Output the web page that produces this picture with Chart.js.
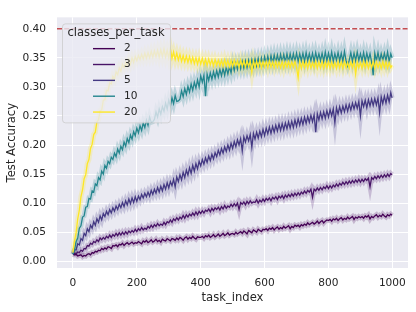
<!DOCTYPE html>
<html>
<head>
<meta charset="utf-8">
<script src="https://cdn.jsdelivr.net/npm/chart.js@4.4.1/dist/chart.umd.min.js"></script>
<style>
  html, body { margin: 0; padding: 0; background: #fff; }
  canvas { display: block; }
</style>
</head>
<body>
<canvas id="chart" width="416" height="312"></canvas>
<script>
// x positions (task_index), sampled every 5 tasks
const taskIndex = [
  0, 5, 10, 15, 20, 25, 30, 35, 40, 45, 50, 55, 60, 65, 70, 75, 80, 85, 90, 95,
  100, 105, 110, 115, 120, 125, 130, 135, 140, 145, 150, 155, 160, 165, 170, 175, 180, 185, 190, 195,
  200, 205, 210, 215, 220, 225, 230, 235, 240, 245, 250, 255, 260, 265, 270, 275, 280, 285, 290, 295,
  300, 305, 310, 315, 320, 325, 330, 335, 340, 345, 350, 355, 360, 365, 370, 375, 380, 385, 390, 395,
  400, 405, 410, 415, 420, 425, 430, 435, 440, 445, 450, 455, 460, 465, 470, 475, 480, 485, 490, 495,
  500, 505, 510, 515, 520, 525, 530, 535, 540, 545, 550, 555, 560, 565, 570, 575, 580, 585, 590, 595,
  600, 605, 610, 615, 620, 625, 630, 635, 640, 645, 650, 655, 660, 665, 670, 675, 680, 685, 690, 695,
  700, 705, 710, 715, 720, 725, 730, 735, 740, 745, 750, 755, 760, 765, 770, 775, 780, 785, 790, 795,
  800, 805, 810, 815, 820, 825, 830, 835, 840, 845, 850, 855, 860, 865, 870, 875, 880, 885, 890, 895,
  900, 905, 910, 915, 920, 925, 930, 935, 940, 945, 950, 955, 960, 965, 970, 975, 980, 985, 990, 995,
  999
];

const classesPerTask = [2, 3, 5, 10, 20];

const acc2 = [
  0.012, 0.011, 0.012, 0.009, 0.010, 0.011, 0.008, 0.010, 0.009, 0.012, 0.013, 0.011, 0.015, 0.014, 0.017, 0.016, 0.019, 0.018, 0.022, 0.020,
  0.023, 0.021, 0.025, 0.024, 0.022, 0.027, 0.026, 0.028, 0.025, 0.029, 0.028, 0.031, 0.027, 0.030, 0.032, 0.029, 0.031, 0.033, 0.030, 0.032,
  0.031, 0.034, 0.032, 0.030, 0.035, 0.033, 0.036, 0.032, 0.034, 0.037, 0.033, 0.035, 0.038, 0.034, 0.036, 0.033, 0.038, 0.036, 0.035, 0.039,
  0.037, 0.035, 0.039, 0.038, 0.036, 0.040, 0.037, 0.041, 0.039, 0.036, 0.040, 0.042, 0.038, 0.041, 0.039, 0.043, 0.040, 0.038, 0.042, 0.041,
  0.041, 0.043, 0.040, 0.044, 0.042, 0.045, 0.041, 0.043, 0.046, 0.042, 0.044, 0.047, 0.043, 0.045, 0.048, 0.044, 0.046, 0.049, 0.045, 0.047,
  0.048, 0.046, 0.050, 0.047, 0.049, 0.051, 0.048, 0.052, 0.050, 0.047, 0.053, 0.051, 0.049, 0.054, 0.052, 0.050, 0.055, 0.053, 0.051, 0.055,
  0.054, 0.056, 0.053, 0.057, 0.055, 0.058, 0.054, 0.057, 0.059, 0.055, 0.058, 0.056, 0.060, 0.057, 0.059, 0.061, 0.056, 0.060, 0.058, 0.062,
  0.060, 0.062, 0.059, 0.063, 0.061, 0.064, 0.062, 0.066, 0.063, 0.065, 0.067, 0.064, 0.066, 0.069, 0.065, 0.068, 0.070, 0.066, 0.069, 0.071,
  0.070, 0.072, 0.069, 0.073, 0.071, 0.074, 0.070, 0.073, 0.075, 0.071, 0.074, 0.072, 0.076, 0.073, 0.075, 0.077, 0.072, 0.076, 0.074, 0.077,
  0.075, 0.077, 0.074, 0.078, 0.076, 0.079, 0.073, 0.077, 0.075, 0.078, 0.080, 0.076, 0.079, 0.077, 0.081, 0.078, 0.076, 0.080, 0.078, 0.081,
  0.079
];

const acc3 = [
  0.012, 0.014, 0.013, 0.016, 0.015, 0.019, 0.017, 0.022, 0.021, 0.027, 0.026, 0.031, 0.029, 0.034, 0.032, 0.037, 0.034, 0.040, 0.037, 0.041,
  0.038, 0.043, 0.040, 0.045, 0.041, 0.046, 0.043, 0.048, 0.044, 0.049, 0.045, 0.050, 0.046, 0.051, 0.047, 0.052, 0.049, 0.053, 0.050, 0.055,
  0.051, 0.056, 0.053, 0.058, 0.054, 0.057, 0.055, 0.060, 0.057, 0.062, 0.058, 0.063, 0.060, 0.065, 0.061, 0.064, 0.062, 0.067, 0.063, 0.068,
  0.066, 0.071, 0.067, 0.073, 0.070, 0.075, 0.071, 0.076, 0.073, 0.079, 0.074, 0.080, 0.076, 0.081, 0.078, 0.083, 0.079, 0.085, 0.080, 0.086,
  0.082, 0.087, 0.083, 0.088, 0.086, 0.090, 0.085, 0.091, 0.087, 0.092, 0.089, 0.093, 0.088, 0.094, 0.090, 0.096, 0.091, 0.095, 0.093, 0.098,
  0.094, 0.099, 0.095, 0.100, 0.089, 0.101, 0.098, 0.102, 0.097, 0.103, 0.099, 0.104, 0.100, 0.102, 0.101, 0.106, 0.100, 0.105, 0.102, 0.107,
  0.103, 0.108, 0.105, 0.109, 0.104, 0.110, 0.107, 0.111, 0.106, 0.112, 0.109, 0.113, 0.108, 0.114, 0.110, 0.115, 0.111, 0.116, 0.112, 0.117,
  0.113, 0.118, 0.114, 0.119, 0.116, 0.121, 0.117, 0.122, 0.119, 0.124, 0.110, 0.124, 0.121, 0.126, 0.122, 0.127, 0.123, 0.128, 0.125, 0.130,
  0.125, 0.130, 0.126, 0.131, 0.128, 0.133, 0.129, 0.134, 0.131, 0.136, 0.132, 0.137, 0.133, 0.138, 0.134, 0.139, 0.135, 0.140, 0.136, 0.141,
  0.136, 0.141, 0.137, 0.142, 0.139, 0.143, 0.128, 0.144, 0.141, 0.146, 0.142, 0.147, 0.143, 0.148, 0.144, 0.149, 0.145, 0.150, 0.146, 0.151,
  0.149
];

const acc5 = [
  0.012, 0.019, 0.020, 0.030, 0.028, 0.039, 0.036, 0.048, 0.044, 0.056, 0.051, 0.062, 0.057, 0.068, 0.062, 0.073, 0.067, 0.078, 0.071, 0.082,
  0.077, 0.086, 0.080, 0.089, 0.083, 0.092, 0.086, 0.095, 0.089, 0.098, 0.092, 0.101, 0.094, 0.104, 0.097, 0.107, 0.099, 0.109, 0.101, 0.111,
  0.103, 0.112, 0.106, 0.115, 0.109, 0.117, 0.111, 0.119, 0.112, 0.122, 0.115, 0.124, 0.117, 0.127, 0.119, 0.129, 0.121, 0.132, 0.124, 0.135,
  0.126, 0.137, 0.130, 0.141, 0.128, 0.145, 0.137, 0.149, 0.140, 0.153, 0.144, 0.157, 0.148, 0.161, 0.151, 0.165, 0.155, 0.168, 0.159, 0.172,
  0.164, 0.175, 0.167, 0.178, 0.170, 0.181, 0.173, 0.184, 0.176, 0.187, 0.180, 0.191, 0.183, 0.194, 0.186, 0.197, 0.189, 0.200, 0.191, 0.203,
  0.194, 0.206, 0.197, 0.209, 0.200, 0.211, 0.190, 0.214, 0.205, 0.216, 0.207, 0.218, 0.196, 0.220, 0.210, 0.222, 0.212, 0.224, 0.214, 0.227,
  0.216, 0.229, 0.219, 0.231, 0.220, 0.232, 0.222, 0.234, 0.224, 0.236, 0.225, 0.237, 0.226, 0.238, 0.228, 0.240, 0.229, 0.241, 0.230, 0.243,
  0.232, 0.245, 0.234, 0.246, 0.235, 0.248, 0.237, 0.249, 0.239, 0.251, 0.240, 0.252, 0.222, 0.254, 0.243, 0.256, 0.245, 0.257, 0.246, 0.259,
  0.248, 0.261, 0.250, 0.262, 0.238, 0.264, 0.253, 0.266, 0.255, 0.267, 0.257, 0.269, 0.258, 0.270, 0.260, 0.272, 0.262, 0.273, 0.263, 0.275,
  0.250, 0.276, 0.266, 0.277, 0.264, 0.278, 0.267, 0.279, 0.268, 0.280, 0.269, 0.281, 0.256, 0.283, 0.271, 0.284, 0.272, 0.286, 0.274, 0.290,
  0.281
];

const acc10 = [
  0.012, 0.020, 0.034, 0.040, 0.057, 0.061, 0.076, 0.078, 0.093, 0.094, 0.108, 0.107, 0.121, 0.119, 0.133, 0.130, 0.144, 0.140, 0.155, 0.150,
  0.165, 0.160, 0.172, 0.168, 0.179, 0.175, 0.186, 0.180, 0.193, 0.186, 0.198, 0.192, 0.205, 0.198, 0.211, 0.204, 0.217, 0.210, 0.223, 0.216,
  0.229, 0.221, 0.233, 0.225, 0.238, 0.230, 0.243, 0.234, 0.248, 0.239, 0.240, 0.244, 0.257, 0.248, 0.262, 0.253, 0.266, 0.258, 0.272, 0.262,
  0.277, 0.267, 0.281, 0.271, 0.285, 0.275, 0.276, 0.279, 0.293, 0.283, 0.297, 0.287, 0.301, 0.291, 0.305, 0.294, 0.308, 0.298, 0.312, 0.300,
  0.319, 0.308, 0.320, 0.284, 0.322, 0.311, 0.324, 0.313, 0.326, 0.315, 0.328, 0.317, 0.330, 0.319, 0.332, 0.320, 0.334, 0.322, 0.335, 0.324,
  0.340, 0.328, 0.341, 0.330, 0.342, 0.331, 0.344, 0.332, 0.345, 0.333, 0.346, 0.334, 0.347, 0.335, 0.348, 0.336, 0.349, 0.337, 0.350, 0.338,
  0.352, 0.340, 0.353, 0.341, 0.354, 0.341, 0.355, 0.342, 0.355, 0.342, 0.356, 0.343, 0.356, 0.343, 0.357, 0.343, 0.357, 0.344, 0.357, 0.344,
  0.358, 0.344, 0.357, 0.345, 0.358, 0.344, 0.359, 0.345, 0.357, 0.345, 0.358, 0.344, 0.359, 0.346, 0.357, 0.345, 0.358, 0.344, 0.360, 0.345,
  0.358, 0.345, 0.360, 0.344, 0.357, 0.346, 0.359, 0.345, 0.358, 0.344, 0.361, 0.345, 0.336, 0.346, 0.359, 0.344, 0.358, 0.345, 0.360, 0.346,
  0.357, 0.345, 0.359, 0.344, 0.358, 0.346, 0.357, 0.343, 0.320, 0.358, 0.345, 0.359, 0.344, 0.357, 0.346, 0.358, 0.345, 0.360, 0.344, 0.357,
  0.350
];

const acc20 = [
  0.015, 0.035, 0.050, 0.073, 0.088, 0.111, 0.123, 0.142, 0.149, 0.168, 0.175, 0.194, 0.201, 0.218, 0.222, 0.240, 0.243, 0.259, 0.260, 0.277,
  0.278, 0.294, 0.293, 0.307, 0.305, 0.318, 0.313, 0.326, 0.321, 0.333, 0.327, 0.339, 0.333, 0.342, 0.336, 0.347, 0.339, 0.350, 0.342, 0.352,
  0.345, 0.354, 0.347, 0.356, 0.348, 0.358, 0.349, 0.359, 0.350, 0.361, 0.351, 0.362, 0.352, 0.363, 0.351, 0.364, 0.352, 0.365, 0.351, 0.363,
  0.350, 0.366, 0.349, 0.360, 0.347, 0.358, 0.346, 0.356, 0.344, 0.354, 0.343, 0.353, 0.342, 0.352, 0.341, 0.351, 0.340, 0.350, 0.339, 0.350,
  0.339, 0.349, 0.338, 0.348, 0.337, 0.348, 0.338, 0.347, 0.336, 0.347, 0.337, 0.346, 0.336, 0.346, 0.335, 0.347, 0.336, 0.346, 0.335, 0.346,
  0.335, 0.346, 0.336, 0.345, 0.334, 0.346, 0.335, 0.345, 0.334, 0.345, 0.335, 0.344, 0.325, 0.345, 0.333, 0.344, 0.334, 0.345, 0.333, 0.344,
  0.334, 0.344, 0.333, 0.345, 0.334, 0.343, 0.333, 0.344, 0.334, 0.343, 0.333, 0.344, 0.332, 0.343, 0.334, 0.344, 0.333, 0.343, 0.334, 0.344,
  0.333, 0.316, 0.343, 0.332, 0.344, 0.333, 0.343, 0.332, 0.344, 0.333, 0.342, 0.333, 0.344, 0.332, 0.343, 0.333, 0.344, 0.332, 0.343, 0.333,
  0.344, 0.332, 0.343, 0.333, 0.342, 0.332, 0.344, 0.333, 0.343, 0.332, 0.344, 0.333, 0.342, 0.332, 0.343, 0.333, 0.344, 0.322, 0.343, 0.333,
  0.342, 0.332, 0.344, 0.333, 0.343, 0.332, 0.342, 0.333, 0.344, 0.332, 0.343, 0.333, 0.342, 0.332, 0.344, 0.333, 0.343, 0.332, 0.342, 0.333,
  0.337
];

const xTicks = [0, 200, 400, 600, 800, 1000];
const yTicks = [0.00, 0.05, 0.10, 0.15, 0.20, 0.25, 0.30, 0.35, 0.40];
const ceilingLine = 0.40;

const colors = ['#440154', '#481467', '#443983', '#24868e', '#fde725'];
const series = [acc2, acc3, acc5, acc10, acc20];

function withAlpha(hex, a) {
  const n = parseInt(hex.slice(1), 16);
  return `rgba(${(n >> 16) & 255},${(n >> 8) & 255},${n & 255},${a})`;
}

const toPoints = vals => taskIndex.map((t, i) => ({ x: t, y: vals[i] }));

const datasets = [];
series.forEach((vals, i) => {
  // soft halo standing in for the error band
  datasets.push({
    data: toPoints(vals),
    borderColor: withAlpha(colors[i], 0.22),
    borderWidth: 5,
    pointRadius: 0,
    order: 20 - i
  });
  datasets.push({
    data: toPoints(vals),
    borderColor: colors[i],
    borderWidth: 1.3,
    pointRadius: 0,
    order: 10 - i
  });
});

const FONT = 'DejaVu Sans';
const TEXT = '#262626';

const plotBackground = {
  id: 'plotBackground',
  beforeDraw(chart) {
    const { ctx, chartArea: a } = chart;
    ctx.save();
    ctx.fillStyle = '#eaeaf2';
    ctx.fillRect(a.left, a.top, a.right - a.left, a.bottom - a.top);
    ctx.restore();
  }
};

const ceiling = {
  id: 'ceiling',
  afterDatasetsDraw(chart) {
    const { ctx, chartArea: a, scales } = chart;
    const y = scales.y.getPixelForValue(ceilingLine);
    ctx.save();
    ctx.strokeStyle = '#c44e52';
    ctx.lineWidth = 1.4;
    ctx.setLineDash([5, 2.2]);
    ctx.beginPath();
    ctx.moveTo(a.left, y);
    ctx.lineTo(a.right, y);
    ctx.stroke();
    ctx.restore();
  }
};

const legendBox = {
  id: 'legendBox',
  afterDatasetsDraw(chart) {
    const { ctx, chartArea: a } = chart;
    const x = a.left + 5, y = a.top + 6, w = 108, h = 99;
    ctx.save();
    ctx.beginPath();
    ctx.roundRect(x + 0.5, y + 0.5, w, h, 3);
    ctx.fillStyle = 'rgba(234,234,242,0.8)';
    ctx.fill();
    ctx.strokeStyle = 'rgba(204,204,204,0.8)';
    ctx.lineWidth = 1;
    ctx.stroke();

    ctx.fillStyle = TEXT;
    ctx.textBaseline = 'middle';
    ctx.textAlign = 'center';
    ctx.font = `11.6px "${FONT}"`;
    ctx.fillText('classes_per_task', x + w / 2, y + 9.5);

    ctx.textAlign = 'left';
    ctx.font = `10.6px "${FONT}"`;
    classesPerTask.forEach((c, i) => {
      const ly = y + 25.3 + i * 15.85;
      ctx.strokeStyle = colors[i];
      ctx.lineWidth = 1.4;
      ctx.beginPath();
      ctx.moveTo(x + 31, ly);
      ctx.lineTo(x + 53, ly);
      ctx.stroke();
      ctx.fillText(String(c), x + 62, ly);
    });
    ctx.restore();
  }
};

new Chart(document.getElementById('chart'), {
  type: 'line',
  data: { datasets },
  options: {
    responsive: false,
    animation: false,
    devicePixelRatio: 1,
    layout: { padding: { top: 7, right: 8, left: 0, bottom: 0 } },
    elements: { line: { tension: 0 } },
    plugins: { legend: { display: false }, tooltip: { enabled: false } },
    scales: {
      x: {
        type: 'linear',
        min: -49.95,
        max: 1048.95,
        afterBuildTicks: s => { s.ticks = xTicks.map(v => ({ value: v })); },
        afterFit: s => { s.height = 44; },
        grid: { color: '#ffffff', lineWidth: 1, drawTicks: false },
        border: { display: false },
        ticks: {
          padding: 9,
          color: TEXT,
          font: { family: FONT, size: 10.6 },
          maxRotation: 0,
          callback: v => String(v)
        },
        title: {
          display: true,
          text: 'task_index',
          color: TEXT,
          font: { family: FONT, size: 11.6 },
          padding: { top: 0, bottom: 7.3 }
        }
      },
      y: {
        type: 'linear',
        min: -0.0116,
        max: 0.4196,
        afterBuildTicks: s => { s.ticks = yTicks.map(v => ({ value: v })); },
        afterFit: s => { s.width = 57; },
        grid: { color: '#ffffff', lineWidth: 1, drawTicks: false },
        border: { display: false },
        ticks: {
          padding: 11,
          color: TEXT,
          font: { family: FONT, size: 10.6 },
          callback: v => v.toFixed(2)
        },
        title: {
          display: true,
          text: 'Test Accuracy',
          color: TEXT,
          font: { family: FONT, size: 11.6 },
          padding: { top: 5.5, bottom: 0 }
        }
      }
    }
  },
  plugins: [plotBackground, ceiling, legendBox]
});
</script>
</body>
</html>
